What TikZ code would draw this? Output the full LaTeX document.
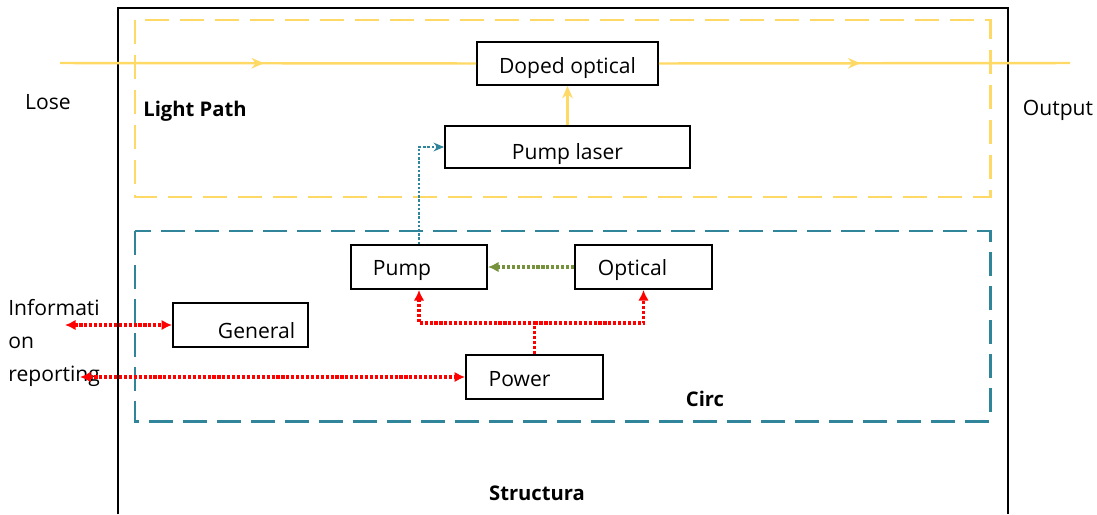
\documentclass[tikz,border=0pt]{standalone}
\usepackage{fontspec}
\setmainfont{Open Sans}
\usetikzlibrary{arrows.meta,decorations.markings}

\definecolor{lightyellow}{RGB}{255,217,102}
\definecolor{circteal}{RGB}{49,133,155}
\definecolor{sigred}{RGB}{255,0,0}
\definecolor{sigolive}{RGB}{118,146,60}

\newcommand{\lowered}[2]{\raisebox{-#1}[\height][\depth]{#2}}

\begin{document}
\begin{tikzpicture}[x=0.02cm, y=-0.02cm,
    font=\fontsize{12}{14}\selectfont,
    box/.style={draw=black, line width=1.1pt, inner sep=0pt, minimum height=0.88cm},
    title/.style={font=\fontsize{11.5}{14}\selectfont\bfseries},
    light/.style={draw=lightyellow, line width=1.4pt},
    midarrow/.style={postaction={decorate}, decoration={markings,
        mark=at position 0.49 with {\arrow{Stealth[length=7pt,width=6pt]}}}},
    ctrl/.style={draw=sigred, line width=1.8pt, densely dotted,
        {Latex[length=6pt,width=6pt]}-{Latex[length=6pt,width=6pt]}},
    ctrlone/.style={draw=sigred, line width=1.8pt, densely dotted, -{Latex[length=6pt,width=6pt]}}]
    \useasboundingbox (0,0) rectangle (1097,514);

    % frames
    \draw[line width=1.1pt] (118,514) -- (118,8) -- (1008,8) -- (1008,514);
    \draw[lightyellow, line width=1.7pt, dash pattern=on 0.48cm off 0.22cm] (135,20) rectangle (990,197);
    \draw[circteal, line width=1.7pt, dash pattern=on 0.48cm off 0.2cm] (135,231) rectangle (990,421);

    % blocks
    \node[box, minimum width=3.62cm, minimum height=0.86cm] (doped) at (567.5,63.5) {\lowered{0.1cm}{Doped optical}};
    \node[box, minimum width=4.9cm, minimum height=0.84cm] (laser) at (567.5,147) {\lowered{0.14cm}{Pump laser}};
    \node[box, minimum width=2.72cm] (pump) at (419,267) {\lowered{0.08cm}{Pump}\kern0.68cm};
    \node[box, minimum width=2.74cm] (optical) at (643.5,267) {\lowered{0.06cm}{Optical}\kern0.44cm};
    \node[box, minimum width=2.7cm] (general) at (240.5,325) {\kern0.64cm\lowered{0.12cm}{General}};
    \node[box, minimum width=2.74cm] (power) at (534.5,377) {\lowered{0.05cm}{Power}\kern0.6cm};

    % texts
    \node (lose) at (48,102) {Lose};
    \node (output) at (1058,110) {Output};
    \node[title] (lightpath) at (195,111) {Light Path};
    \node[title] (circ) at (705,399) {Circ};
    \node[title] (structura) at (537,493) {Structura};
    \node[anchor=west, align=left, inner sep=0pt, font=\fontsize{12}{18.7}\selectfont] (info) at (8,343) {Informati\\on\\reporting};

    \coordinate (in) at (60,63);
    \coordinate (out) at (1070,63);
    \coordinate (infoend) at (65,325);
    \coordinate (repend) at (80,377);
    \coordinate (split) at (534.5,323);

    % light path
    \draw[light, midarrow] (in) -- (doped.west);
    \draw[light, midarrow] (doped.east) -- (out);
    \draw[light, -{Stealth[length=7pt,width=6pt]}] (laser.north) -- (doped.south);

    % control
    \draw[circteal, line width=1.4pt, densely dotted, -{Stealth[length=6pt,width=5pt]}] (pump.north) |- (laser.west);
    \draw[sigolive, line width=1.8pt, densely dotted, -{Latex[length=6pt,width=6pt]}] (optical.west) -- (pump.east);
    \draw[ctrlone] (power.north) -- (split) -| (pump.south);
    \draw[ctrlone] (split) -| (optical.south);
    \draw[ctrl] (infoend) -- (general.west);
    \draw[ctrl] (repend) -- (power.west);
\end{tikzpicture}
\end{document}
